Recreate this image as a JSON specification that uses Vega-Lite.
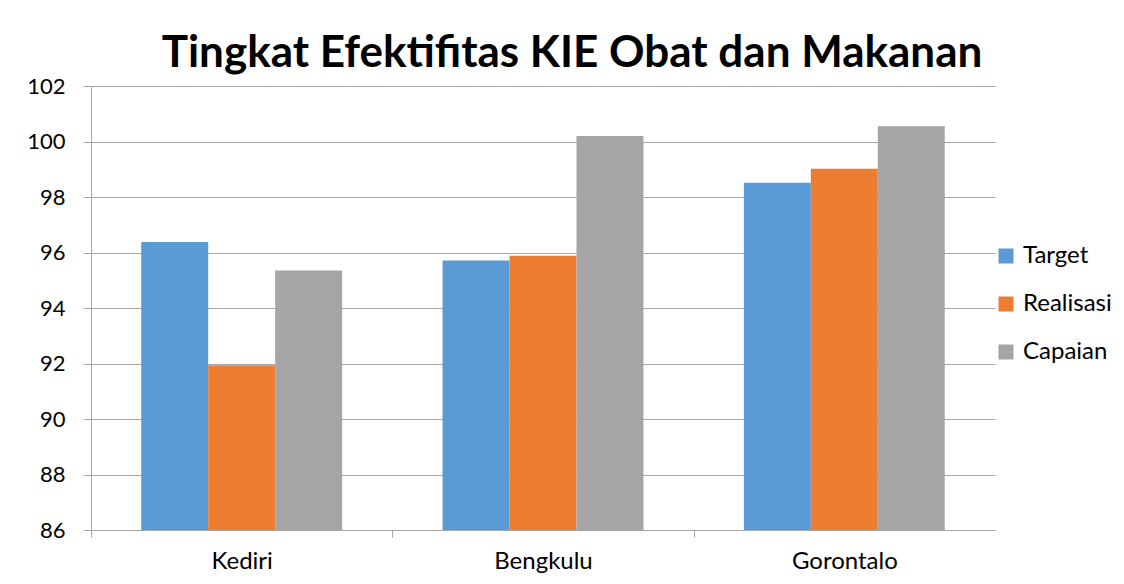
{
  "$schema": "https://vega.github.io/schema/vega-lite/v6.json",
  "autosize": {"type": "none"},
  "width": 904,
  "height": 444,
  "padding": {"left": 91, "top": 86, "right": 129, "bottom": 54},
  "background": "white",
  "config": {"font": "Lato", "view": {"stroke": null}},
  "title": {
    "text": "Tingkat Efektifitas KIE Obat dan Makanan",
    "font": "Lato",
    "fontSize": 44,
    "fontWeight": "bold",
    "color": "#000000",
    "anchor": "middle",
    "dx": 29,
    "offset": -1
  },
  "data": {
    "values": [
      {"kota": "Kediri", "seri": "Target", "nilai": 96.38},
      {"kota": "Kediri", "seri": "Realisasi", "nilai": 91.94},
      {"kota": "Kediri", "seri": "Capaian", "nilai": 95.35},
      {"kota": "Bengkulu", "seri": "Target", "nilai": 95.71},
      {"kota": "Bengkulu", "seri": "Realisasi", "nilai": 95.88},
      {"kota": "Bengkulu", "seri": "Capaian", "nilai": 100.2},
      {"kota": "Gorontalo", "seri": "Target", "nilai": 98.51},
      {"kota": "Gorontalo", "seri": "Realisasi", "nilai": 99.02},
      {"kota": "Gorontalo", "seri": "Capaian", "nilai": 100.55}
    ]
  },
  "mark": {"type": "bar", "clip": true},
  "encoding": {
    "x": {
      "field": "kota",
      "type": "nominal",
      "sort": ["Kediri", "Bengkulu", "Gorontalo"],
      "scale": {"paddingInner": 0.3333, "paddingOuter": 0.1667},
      "axis": {
        "title": null,
        "labelAngle": 0,
        "labelFontSize": 24,
        "labelColor": "#000000",
        "labelPadding": 12,
        "labelOffset": 150.67,
        "domainColor": "#a6a6a6",
        "tickColor": "#a6a6a6",
        "tickSize": 7,
        "tickWidth": 1,
        "tickOffset": -150.67,
        "grid": false
      }
    },
    "xOffset": {"field": "seri", "type": "nominal", "sort": ["Target", "Realisasi", "Capaian"], "scale": {"paddingInner": 0, "paddingOuter": 0}},
    "y": {
      "field": "nilai",
      "type": "quantitative",
      "scale": {"domain": [86, 102], "zero": false, "nice": false},
      "axis": {
        "title": null,
        "values": [86, 88, 90, 92, 94, 96, 98, 100, 102],
        "labelFontSize": 22,
        "labelColor": "#000000",
        "labelPadding": 18,
        "tickSize": 8,
        "tickColor": "#a6a6a6",
        "domainColor": "#a6a6a6",
        "gridColor": "#a6a6a6",
        "gridWidth": 1
      }
    },
    "color": {
      "field": "seri",
      "type": "nominal",
      "sort": ["Target", "Realisasi", "Capaian"],
      "scale": {"domain": ["Target", "Realisasi", "Capaian"], "range": ["#5B9BD5", "#ED7D31", "#A5A5A5"]},
      "legend": {
        "title": null,
        "orient": "none",
        "legendX": 903,
        "legendY": 158,
        "symbolType": "square",
        "symbolSize": 225,
        "symbolStrokeWidth": 0,
        "labelFontSize": 24,
        "labelColor": "#000000",
        "labelOffset": 5,
        "rowPadding": 24
      }
    }
  }
}
